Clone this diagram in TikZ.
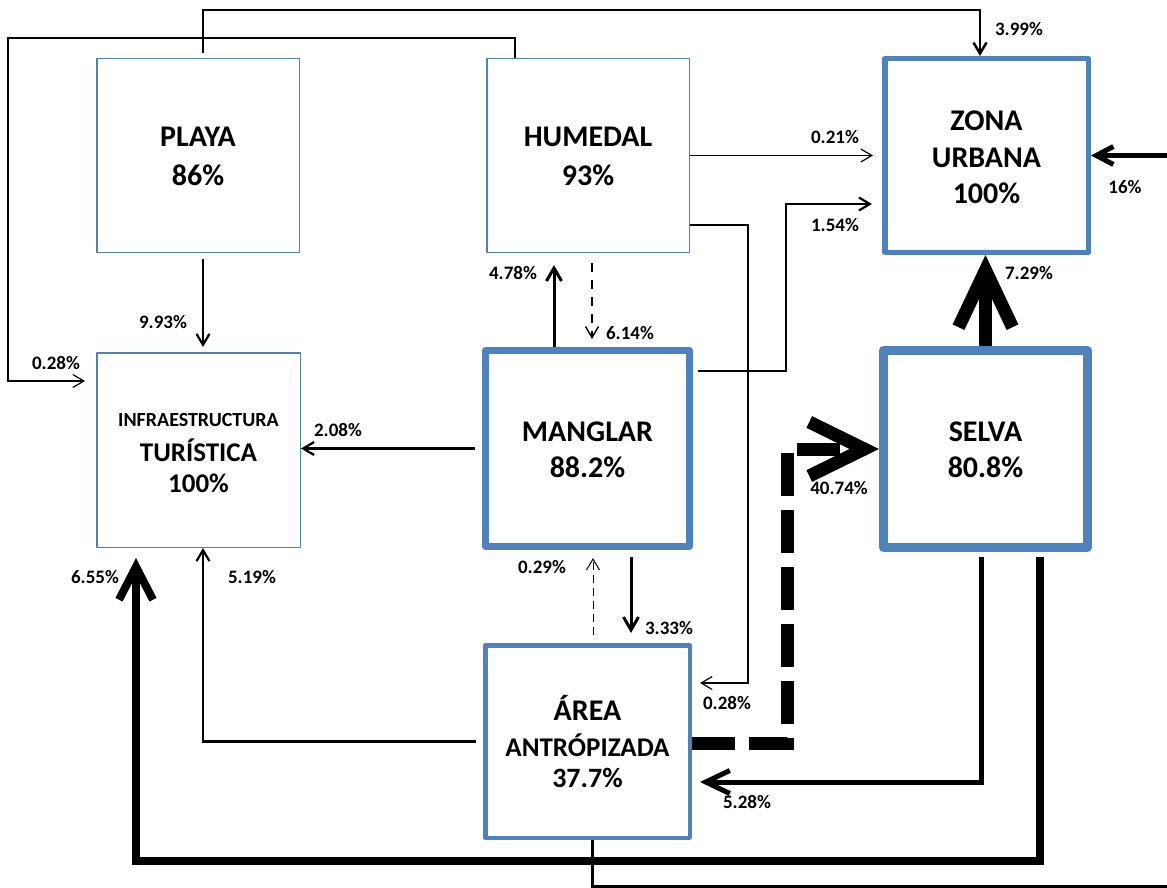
\documentclass[tikz,border=0pt]{standalone}
\usepackage{fontspec}
\setmainfont{Carlito}
\usetikzlibrary{arrows.meta}
\definecolor{boxblue}{RGB}{79,129,189}
\begin{document}
\begin{tikzpicture}[x=1pt,y=-1pt,
  box/.style={draw=boxblue, line join=round, inner sep=0pt, align=center,
    font=\fontsize{30}{36.5}\selectfont\bfseries},
  thinbox/.style={box, line width=1.5pt, minimum width=202.5pt, minimum height=193.5pt,
    font=\fontsize{30}{39}\selectfont\bfseries},
  lbl/.style={font=\fontsize{19}{21}\selectfont\bfseries, inner sep=0pt},
  lthin/.style={line width=1.2pt},
  lmed/.style={line width=2.2pt},
  lthree/.style={line width=3pt},
  tipA/.style={-{Straight Barb[length=11pt,width=13pt]}},
  tipB/.style={-{Straight Barb[length=13pt,width=15pt]}},
]
\fill[white] (0,0) rectangle (1167,888);
\useasboundingbox (0,0) rectangle (1167,888);

% boxes
\node[thinbox] (playa) at (198,155.5) {\rule{0pt}{21.3pt}PLAYA\\86\%};
\node[thinbox] (humedal) at (588,155.5) {\rule{0pt}{21.3pt}HUMEDAL\\93\%};
\node[box, line width=5.5pt, minimum width=203.5pt, minimum height=193.5pt] (zona) at (986.5,155.5) {\rule{0pt}{23.3pt}ZONA\\URBANA\\100\%};
\node[box, line width=1.5pt, minimum width=203.5pt, minimum height=194.5pt,
  font=\fontsize{27}{31}\selectfont\bfseries] (infra) at (198.5,450)
  {{\fontsize{20}{20}\selectfont\rule{0pt}{19pt}INFRAESTRUCTURA}\\[4.3pt]TURÍSTICA\\100\%};
\node[box, line width=7pt, minimum width=204pt, minimum height=196pt,
  font=\fontsize{30}{36}\selectfont\bfseries] (manglar) at (587.5,448.5) {\rule{0pt}{22.3pt}MANGLAR\\88.2\%};
\node[box, line width=9pt, minimum width=204pt, minimum height=197pt,
  font=\fontsize{30}{35.5}\selectfont\bfseries] (selva) at (985.5,449) {\rule{0pt}{21.3pt}SELVA\\80.8\%};
\node[box, line width=4.5pt, minimum width=204.5pt, minimum height=192.5pt,
  font=\fontsize{28}{31}\selectfont\bfseries] (area) at (587.5,741.5)
  {{\fontsize{30}{31}\selectfont ÁREA}\\[5pt]{\fontsize{27}{31}\selectfont ANTRÓPIZADA}\\37.7\%};

\coordinate (redge) at (1167,155.5);
\coordinate (bedge) at (1167,886.5);

% connectors
\draw[line width=2.5pt, tipA] ([shift={(5pt,5pt)}]playa.north) -- ++(0,-43) -| ([xshift=-6.5pt]zona.north);
\draw[lthin, tipA] ([xshift=-73pt]humedal.north) |- (8,38) |- ([shift={(-11pt,69pt)}]infra.west);
\draw[lmed, tipA] ([shift={(5pt,-6pt)}]playa.south) -- ([shift={(4.5pt,5pt)}]infra.north);
\draw[lthin, tipA] (humedal.east) -- ([xshift=-9pt]zona.west);
\draw[lmed, tipA] ([shift={(5pt,77.5pt)}]manglar.east) -| (786,204) -- ([shift={(-10pt,-48.5pt)}]zona.west);
\draw[lthin, tipA] ([yshift=-69.5pt]humedal.east) -| ([shift={(56pt,58.5pt)}]area.east) -- ([shift={(8pt,58.5pt)}]area.east);
\draw[lthree, tipB] ([xshift=-33.5pt]manglar.north) -- ([shift={(-34pt,-12pt)}]humedal.south);
\draw[line width=1.5pt, dash pattern=on 9pt off 8pt, tipA] ([shift={(4pt,-10pt)}]humedal.south) -- ([shift={(4.5pt,8pt)}]manglar.north);
\draw[lmed, tipA] ([xshift=-7pt]manglar.west) -- (infra.east |- manglar.west);
\draw[lthree, tipB] ([shift={(43.5pt,-7pt)}]manglar.south) -- ([shift={(43.5pt,10pt)}]area.north);
\draw[line width=1pt, dash pattern=on 8pt off 5pt, tipA] ([shift={(5.5pt,8pt)}]area.north) -- ([shift={(5.5pt,-8pt)}]manglar.south);
\draw[lmed, tipA] ([xshift=-7pt]area.west) -| ([xshift=4.5pt]infra.south);
\draw[line width=8pt, -{Straight Barb[length=33pt,width=34pt]}] ([shift={(54.5pt,-5pt)}]selva.south) |- (136,861) -- ([shift={(-62.5pt,-10pt)}]infra.south);
\draw[line width=5pt, -{Straight Barb[length=24pt,width=23pt]}] ([shift={(-4.5pt,-5pt)}]selva.south) |- ([shift={(8pt,-40.5pt)}]area.east);
\draw[line width=13pt, dash pattern=on 43pt off 14pt, -{Straight Barb[length=55pt,width=54pt]}] ([yshift=-1.5pt]area.east) -| ([xshift=-92pt]selva.west) -- (selva.west);
\draw[line width=13pt, -{Straight Barb[length=57pt,width=54pt]}] (selva.north) -- (selva.north |- zona.south);
\draw[line width=5pt, -{Straight Barb[length=17pt,width=18pt]}] (redge) -- (zona.east);
\draw[lthree] ([xshift=4.5pt]area.south) |- (bedge);

% labels
\node[lbl] (l399) at (1019,29) {3.99\%};
\node[lbl] (l028a) at (56,363) {0.28\%};
\node[lbl] (l993) at (163,322) {9.93\%};
\node[lbl] (l021) at (835,137) {0.21\%};
\node[lbl] (l154) at (835,225) {1.54\%};
\node[lbl] (l478) at (513,273) {4.78\%};
\node[lbl] (l614) at (630,333) {6.14\%};
\node[lbl] (l208) at (338,430) {2.08\%};
\node[lbl] (l028b) at (727,703) {0.28\%};
\node[lbl] (l029) at (542,567) {0.29\%};
\node[lbl] (l333) at (669,628) {3.33\%};
\node[lbl] (l655) at (95,577) {6.55\%};
\node[lbl] (l519) at (252,577) {5.19\%};
\node[lbl] (l4074) at (839,488) {40.74\%};
\node[lbl] (l729) at (1029,273) {7.29\%};
\node[lbl] (l16) at (1125,187) {16\%};
\node[lbl] (l528) at (747,802) {5.28\%};
\end{tikzpicture}
\end{document}
